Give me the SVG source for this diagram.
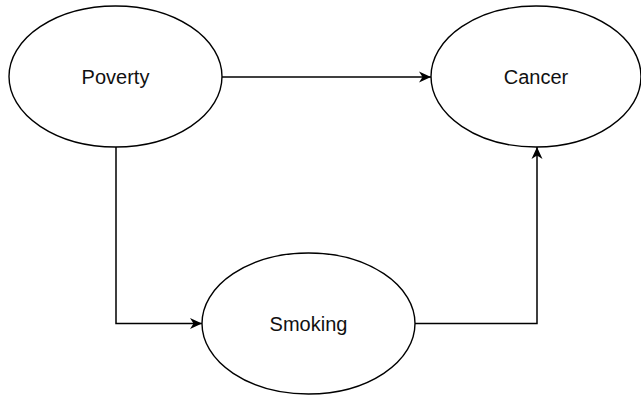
<svg xmlns="http://www.w3.org/2000/svg" width="641" height="396" viewBox="0 0 641 396">
<style>
.node ellipse{fill:#fff;stroke:#000;stroke-width:1.4}
.node text{font-family:"Liberation Sans",Arial,sans-serif;font-size:20px;fill:#111;text-anchor:middle}
.edge{fill:none;stroke:#000;stroke-width:1.5}
</style>
<defs>
<marker id="arr" markerUnits="userSpaceOnUse" markerWidth="16" markerHeight="14" viewBox="0 0 16 14" refX="13" refY="7" orient="auto">
<path d="M1,1.5 L13,7 L1,12.5 L4.5,7 Z" fill="#000"/>
</marker>
</defs>
<rect width="641" height="396" fill="#fff"/>
<g id="connectors">
<path class="edge" d="M222,77 H431" marker-end="url(#arr)"/>
<path class="edge" d="M116,147 V323.5 H202" marker-end="url(#arr)"/>
<path class="edge" d="M415,323.5 H537 V147" marker-end="url(#arr)"/>
</g>
<g id="poverty" class="node">
<ellipse cx="115.5" cy="76.5" rx="106.5" ry="70.5"/>
<text x="115.5" y="84">Poverty</text>
</g>
<g id="cancer" class="node">
<ellipse cx="536" cy="76.5" rx="105" ry="70.5"/>
<text x="536" y="84">Cancer</text>
</g>
<g id="smoking" class="node">
<ellipse cx="308.5" cy="323.5" rx="106.5" ry="70.5"/>
<text x="308.5" y="331">Smoking</text>
</g>
</svg>
